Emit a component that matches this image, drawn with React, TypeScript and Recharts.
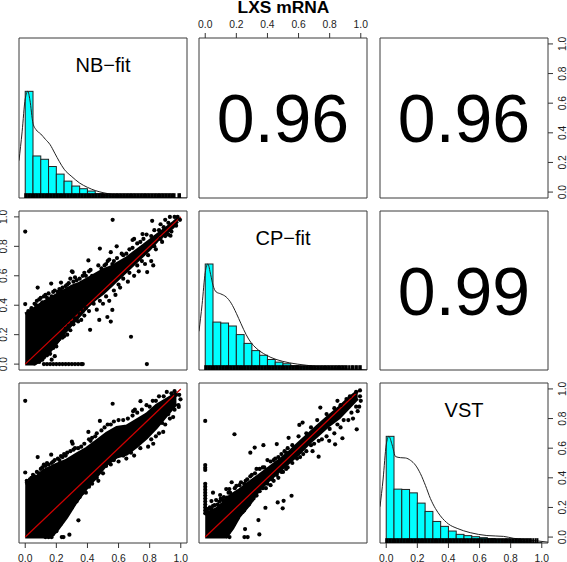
import React from "react";
import {
  ComposedChart,
  XAxis,
  YAxis,
  Bar,
  Line,
  Area,
  Scatter,
  ReferenceArea,
  ReferenceDot,
} from "recharts";

const FONT = '"Liberation Sans", Arial, Helvetica, sans-serif';
const PAD = 36;
const AXIS = 30;
const INK = "#1c1c1c";
const TICKS = [0, 0.2, 0.4, 0.6, 0.8, 1];
const DOMAIN: [number, number] = [-0.04, 1.04];
const HIST_Y: [number, number] = [0, 1.5];

const binCenters = [0.025, 0.075, 0.125, 0.175, 0.225, 0.275, 0.325, 0.375, 0.425, 0.475, 0.525, 0.575, 0.625, 0.675, 0.725, 0.775, 0.825, 0.875, 0.925, 0.975];
const nbHist = [1, 0.394, 0.363, 0.295, 0.224, 0.158, 0.112, 0.087, 0.065, 0.04, 0.025, 0.015, 0.01, 0.007, 0.005, 0.004, 0.003, 0.002, 0.002, 0.001];
const cpHist = [1, 0.452, 0.443, 0.415, 0.334, 0.251, 0.183, 0.139, 0.099, 0.074, 0.059, 0.04, 0.03, 0.02, 0.015, 0.012, 0.01, 0.008, 0.005, 0.003];
const vstHist = [1, 0.505, 0.502, 0.47, 0.374, 0.296, 0.202, 0.156, 0.112, 0.081, 0.069, 0.059, 0.05, 0.04, 0.03, 0.025, 0.02, 0.015, 0.01, 0.004];

const nbDensityX = [-0.04, -0.02, 0, 0.017, 0.03, 0.05, 0.07, 0.1, 0.13, 0.16, 0.19, 0.22, 0.25, 0.3, 0.35, 0.4, 0.45, 0.5, 0.6, 0.7, 0.8, 0.9, 1, 1.04];
const nbDensityY = [0.35, 0.62, 0.93, 1, 0.92, 0.7, 0.64, 0.6, 0.55, 0.5, 0.42, 0.34, 0.27, 0.2, 0.14, 0.1, 0.07, 0.05, 0.025, 0.012, 0.006, 0.003, 0.001, 0];
const cpDensityX = [-0.04, -0.02, 0, 0.017, 0.035, 0.05, 0.07, 0.1, 0.134, 0.167, 0.2, 0.23, 0.263, 0.295, 0.327, 0.39, 0.455, 0.54, 0.65, 0.8, 1, 1.04];
const cpDensityY = [0.365, 0.62, 0.92, 1, 0.9, 0.8, 0.737, 0.718, 0.69, 0.63, 0.535, 0.437, 0.334, 0.257, 0.207, 0.142, 0.1, 0.068, 0.045, 0.02, 0.005, 0.002];
const vstDensityX = [-0.04, -0.02, 0, 0.017, 0.038, 0.06, 0.092, 0.124, 0.156, 0.188, 0.22, 0.252, 0.284, 0.316, 0.348, 0.4, 0.456, 0.54, 0.647, 0.754, 0.818, 0.968, 1.04];
const vstDensityY = [0.34, 0.6, 0.92, 1, 0.92, 0.81, 0.8, 0.797, 0.775, 0.73, 0.65, 0.54, 0.417, 0.324, 0.255, 0.178, 0.137, 0.097, 0.07, 0.062, 0.044, 0.02, 0.008];

const rugDense = [0, 0.01, 0.02, 0.03, 0.04, 0.05, 0.06, 0.07, 0.08, 0.09, 0.1, 0.11, 0.12, 0.13, 0.14, 0.15, 0.16, 0.17, 0.18, 0.19, 0.2, 0.21, 0.22, 0.23, 0.24, 0.25, 0.26, 0.27, 0.28, 0.29, 0.3, 0.31, 0.32, 0.33, 0.34, 0.35, 0.36, 0.37, 0.38, 0.39, 0.4, 0.41, 0.42, 0.43, 0.44, 0.45, 0.46, 0.47, 0.48, 0.49, 0.5, 0.51, 0.52, 0.53, 0.54, 0.55, 0.56, 0.57, 0.58, 0.59, 0.6, 0.61, 0.62, 0.63, 0.64, 0.65, 0.66, 0.67, 0.68, 0.69, 0.7, 0.71, 0.72, 0.73, 0.74, 0.75, 0.76, 0.77, 0.78, 0.79, 0.8, 0.81, 0.82, 0.83, 0.84, 0.85, 0.86, 0.87, 0.88, 0.89, 0.9];
const nbRugTail = [0.91, 0.92, 0.93, 0.94, 0.95, 0.96, 0.985, 0.995];
const cpRugTail = [0.91, 0.925, 0.94, 0.95, 0.965, 0.975, 0.99, 1.0];
const vstRugTail = [0.91, 0.92, 0.93, 0.945, 0.96, 0.972];

// Dense clouds, read as lower and upper edges of the black mass: [x, low, high]
const cloudNbCp: [number, number, number][] = [[0, 0, 0.34], [0.03, 0, 0.36], [0.06, 0, 0.38], [0.1, 0.025, 0.41], [0.15, 0.075, 0.44], [0.2, 0.14, 0.47], [0.25, 0.21, 0.5], [0.3, 0.27, 0.53], [0.35, 0.33, 0.55], [0.4, 0.39, 0.58], [0.45, 0.44, 0.61], [0.5, 0.48, 0.64], [0.55, 0.53, 0.66], [0.6, 0.58, 0.69], [0.65, 0.63, 0.72], [0.7, 0.68, 0.76], [0.75, 0.73, 0.8], [0.8, 0.78, 0.84], [0.85, 0.84, 0.88], [0.9, 0.885, 0.92], [0.95, 0.93, 0.96], [0.98, 0.97, 0.99]];
const cloudNbVst: [number, number, number][] = [[0, 0, 0.36], [0.03, 0, 0.375], [0.075, 0, 0.41], [0.118, 0, 0.45], [0.16, 0, 0.47], [0.2, 0.04, 0.49], [0.267, 0.135, 0.52], [0.33, 0.24, 0.56], [0.395, 0.33, 0.6], [0.46, 0.41, 0.65], [0.523, 0.49, 0.7], [0.588, 0.54, 0.74], [0.652, 0.56, 0.75], [0.716, 0.61, 0.79], [0.78, 0.67, 0.83], [0.844, 0.74, 0.89], [0.908, 0.82, 0.93], [0.972, 0.9, 0.97]];
const cloudCpVst: [number, number, number][] = [[0, 0, 0.15], [0.028, 0, 0.17], [0.07, 0, 0.19], [0.113, 0, 0.23], [0.135, 0, 0.26], [0.177, 0.06, 0.29], [0.22, 0.14, 0.32], [0.284, 0.22, 0.37], [0.348, 0.32, 0.42], [0.412, 0.385, 0.47], [0.476, 0.445, 0.52], [0.54, 0.505, 0.575], [0.605, 0.565, 0.64], [0.669, 0.635, 0.7], [0.733, 0.695, 0.76], [0.797, 0.755, 0.82], [0.861, 0.805, 0.875], [0.925, 0.875, 0.94], [0.98, 0.935, 0.985]];

// Individually visible points around the clouds: [x, y]
const pointsNbCp: [number, number][] = [[0, 0.9], [0.562, 0.98], [0.68, 0.186], [0.782, 0], [0.08, 0.52], [0.23, 0.554], [0.167, 0.547], [0.3, 0.63], [0.305, 0.625], [0.406, 0.704], [0.48, 0.785], [0.588, 0.8], [0.55, 0.76], [0.53, 0.7], [0.54, 0.71], [0.754, 0.883], [0.69, 0.843], [0.7, 0.85], [0.816, 0.973], [0.934, 0.872], [0.417, 0.233], [0.56, 0.368], [0.55, 0.289], [0.528, 0.32], [0.476, 0.3], [0.823, 0.67], [0.784, 0.625], [0, 0.408], [0.12, 0], [0.14, 0], [0.16, 0], [0.18, 0], [0.2, 0], [0.22, 0], [0.24, 0], [0.26, 0], [0.28, 0], [0.3, 0], [0.32, 0], [0.34, 0], [0.36, 0], [0.37, 0], [0.17, 0.03], [0.19, 0.054], [0.06, 0.41], [0.075, 0.43], [0.1, 0.45], [0.13, 0.47], [0.19, 0.5], [0.22, 0.51], [0.26, 0.53], [0.33, 0.57], [0.37, 0.6], [0.42, 0.64], [0.47, 0.67], [0.51, 0.67], [0.57, 0.7], [0.62, 0.75], [0.67, 0.78], [0.72, 0.82], [0.78, 0.88], [0.83, 0.91], [0.87, 0.95], [0.9, 0.98], [0.93, 1.0], [0.96, 1.0], [0.98, 1.0], [0.995, 0.98], [0.14, 0.06], [0.2, 0.12], [0.22, 0.17], [0.27, 0.2], [0.31, 0.27], [0.36, 0.3], [0.41, 0.36], [0.46, 0.37], [0.5, 0.41], [0.54, 0.43], [0.58, 0.47], [0.61, 0.52], [0.66, 0.56], [0.7, 0.6], [0.73, 0.63], [0.77, 0.68], [0.81, 0.7], [0.84, 0.78], [0.88, 0.83], [0.92, 0.88], [0.97, 0.94], [0.43, 0.6], [0.49, 0.65], [0.52, 0.68], [0.56, 0.68], [0.59, 0.72], [0.63, 0.74], [0.65, 0.75], [0.69, 0.79], [0.74, 0.83], [0.76, 0.85], [0.81, 0.87], [0.86, 0.91], [0.89, 0.93], [0.92, 0.96], [0.44, 0.41], [0.48, 0.43], [0.52, 0.46], [0.57, 0.5], [0.6, 0.54], [0.63, 0.58], [0.67, 0.62], [0.72, 0.67], [0.75, 0.7], [0.79, 0.74], [0.83, 0.8], [0.87, 0.85], [0.9, 0.87], [0.94, 0.9], [0.38, 0.33], [0.34, 0.29], [0.29, 0.23], [0.24, 0.18], [0.02, 0.36], [0.04, 0.38], [0.05, 0.37], [0.07, 0.4], [0.09, 0.44], [0.11, 0.42], [0.12, 0.46], [0.14, 0.45], [0.15, 0.48], [0.17, 0.46], [0.18, 0.49], [0.21, 0.49], [0.23, 0.5], [0.24, 0.52], [0.27, 0.54], [0.28, 0.55], [0.29, 0.58], [0.31, 0.56], [0.32, 0.59], [0.35, 0.58], [0.38, 0.62], [0.39, 0.6], [0.41, 0.63], [0.06, 0.005], [0.09, 0.015], [0.11, 0.03], [0.12, 0.045], [0.15, 0.08], [0.16, 0.07], [0.18, 0.11], [0.21, 0.16], [0.23, 0.2], [0.25, 0.19], [0.26, 0.24], [0.28, 0.26], [0.3, 0.28], [0.32, 0.31], [0.33, 0.3], [0.35, 0.34], [0.37, 0.36], [0.39, 0.38]];
const pointsNbVst: [number, number][] = [[0, 0.92], [0.562, 0.9], [0.08, 0.54], [0.167, 0.556], [0.23, 0.547], [0.3, 0.644], [0.305, 0.63], [0.406, 0.71], [0.48, 0.784], [0.741, 0.917], [0.694, 0.85], [0.705, 0.86], [0.342, 0.113], [0.284, 0.016], [0.246, 0], [0.235, 0], [0, 0.436], [0.998, 0.93], [0.987, 0.878], [0.985, 0.89], [0.951, 0.81], [0.887, 0.71], [0.823, 0.63], [0.05, 0.42], [0.075, 0.44], [0.12, 0.49], [0.14, 0.5], [0.19, 0.52], [0.21, 0.53], [0.27, 0.57], [0.32, 0.6], [0.36, 0.61], [0.43, 0.67], [0.46, 0.7], [0.51, 0.74], [0.53, 0.76], [0.57, 0.78], [0.6, 0.79], [0.66, 0.8], [0.72, 0.84], [0.78, 0.89], [0.82, 0.92], [0.86, 0.95], [0.91, 0.98], [0.96, 0.985], [0.97, 0.96], [0.19, 0.05], [0.22, 0.08], [0.25, 0.13], [0.28, 0.18], [0.31, 0.22], [0.35, 0.27], [0.39, 0.3], [0.43, 0.36], [0.47, 0.38], [0.5, 0.43], [0.55, 0.49], [0.6, 0.51], [0.65, 0.53], [0.7, 0.55], [0.74, 0.6], [0.79, 0.61], [0.84, 0.68], [0.86, 0.7], [0.9, 0.76], [0.93, 0.8], [0.96, 0.86], [0.13, 0], [0.15, 0], [0.17, 0], [0.63, 0.55], [0.68, 0.57], [0.76, 0.66], [0.81, 0.66], [0.88, 0.77], [0.92, 0.83], [0.94, 0.88], [0.99, 0.96], [0.55, 0.76], [0.63, 0.79], [0.69, 0.82], [0.75, 0.86], [0.8, 0.88], [0.84, 0.92], [0.89, 0.95], [0.94, 0.97], [0.01, 0.38], [0.03, 0.39], [0.04, 0.4], [0.06, 0.41], [0.09, 0.43], [0.1, 0.46], [0.11, 0.47], [0.13, 0.48], [0.15, 0.49], [0.17, 0.5], [0.18, 0.51], [0.22, 0.52], [0.24, 0.54], [0.25, 0.56], [0.26, 0.55], [0.29, 0.58], [0.31, 0.59], [0.34, 0.6], [0.38, 0.63], [0.41, 0.66], [0.42, 0.65], [0.45, 0.68], [0.49, 0.72], [0.18, 0.02], [0.2, 0.04], [0.21, 0.07], [0.23, 0.09], [0.24, 0.11], [0.26, 0.14], [0.27, 0.16], [0.29, 0.2], [0.3, 0.2], [0.33, 0.24], [0.34, 0.26], [0.37, 0.3], [0.38, 0.32], [0.41, 0.34], [0.44, 0.39], [0.46, 0.4], [0.49, 0.46], [0.52, 0.48], [0.57, 0.52]];
const pointsCpVst: [number, number][] = [[0, 0.784], [0, 0.486], [0, 0.468], [0, 0.453], [0, 0.36], [0, 0.34], [0, 0.32], [0, 0.3], [0, 0.28], [0, 0.26], [0, 0.24], [0, 0.22], [0, 0.2], [0, 0.18], [0, 0.16], [0.188, 0.694], [0.29, 0.57], [0.318, 0.604], [0.374, 0.62], [0.46, 0.628], [0.536, 0.67], [0.53, 0.6], [0.605, 0.757], [0.626, 0.773], [0.74, 0.874], [0.85, 0.92], [0.908, 0.932], [0.974, 0.727], [0.882, 0.667], [0.835, 0.626], [0.797, 0.65], [0.729, 0.543], [0.69, 0.58], [0.555, 0.279], [0.504, 0.245], [0.466, 0.234], [0.498, 0.194], [0.387, 0.198], [0.342, 0.115], [0.348, 0.018], [0.273, 0], [0.252, 0], [0.256, 0.054], [0.156, 0], [0.17, 0.37], [0.135, 0.324], [0.155, 0.324], [0.05, 0.3], [0.096, 0.284], [0.07, 0.25], [0.04, 0.243], [0.14, 0.266], [0.03, 0.2], [0.06, 0.215], [0.1, 0.26], [0.2, 0.345], [0.23, 0.37], [0.27, 0.39], [0.3, 0.42], [0.33, 0.46], [0.37, 0.47], [0.4, 0.52], [0.45, 0.53], [0.49, 0.56], [0.52, 0.57], [0.56, 0.62], [0.6, 0.68], [0.65, 0.7], [0.68, 0.74], [0.72, 0.79], [0.78, 0.83], [0.83, 0.87], [0.87, 0.89], [0.93, 0.95], [0.97, 0.98], [0.995, 0.99], [0.995, 0.95], [1.0, 0.92], [0.99, 0.88], [0.98, 0.85], [0.95, 0.8], [0.92, 0.79], [0.87, 0.74], [0.83, 0.7], [0.78, 0.68], [0.75, 0.66], [0.7, 0.63], [0.65, 0.58], [0.61, 0.54], [0.56, 0.5], [0.5, 0.44], [0.44, 0.38], [0.39, 0.33], [0.33, 0.28], [0.3, 0.25], [0.25, 0.18], [0.21, 0.13], [0.18, 0.08], [0.13, 0.03], [0.42, 0.35], [0.47, 0.4], [0.53, 0.47], [0.59, 0.53], [0.63, 0.56], [0.68, 0.62], [0.73, 0.65], [0.8, 0.73], [0.85, 0.76], [0.89, 0.79], [0.94, 0.84], [0.97, 0.88], [0.01, 0.17], [0.02, 0.19], [0.04, 0.19], [0.05, 0.21], [0.08, 0.22], [0.09, 0.24], [0.11, 0.25], [0.12, 0.27], [0.15, 0.3], [0.16, 0.3], [0.19, 0.33], [0.22, 0.35], [0.25, 0.36], [0.26, 0.38], [0.29, 0.41], [0.32, 0.43], [0.35, 0.46], [0.38, 0.47], [0.42, 0.51], [0.44, 0.52], [0.47, 0.54], [0.51, 0.58], [0.14, 0.005], [0.15, 0.03], [0.16, 0.05], [0.19, 0.1], [0.2, 0.12], [0.22, 0.15], [0.24, 0.17], [0.26, 0.2], [0.28, 0.22], [0.31, 0.26], [0.35, 0.31], [0.37, 0.33], [0.4, 0.36], [0.43, 0.39], [0.46, 0.42], [0.49, 0.44], [0.52, 0.46]];

const lineEnds = [{ x: 0, y: 0 }, { x: 1, y: 1 }];
const correlations = ["0.96", "0.96", "0.99"];
const titles = ["NB\u2212fit", "CP\u2212fit", "VST"];
const mainTitle = "LXS mRNA";

const colLeft = [19.2, 199.4, 380];
const rowTop = [38, 211, 383];
const panelW = 168;
const rowH = [160, 159, 160];
const binW = (panelW / 1.08) * 0.05;

const pairs = (xs: number[], ys: number[]) => xs.map((x, i) => ({ x, y: ys[i] }));
const toPoints = (p: [number, number][]) => p.map(([x, y]) => ({ x, y }));
const toBand = (p: [number, number, number][]) => p.map(([x, lo, hi]) => ({ x, band: [lo, hi] }));
const toBars = (hist: number[]) => binCenters.map((x, i) => ({ x, h: hist[i] }));

const dot = (props: any) => <circle cx={props.cx} cy={props.cy} r={2.1} fill="#000" />;
const rugMark = (props: any) => <rect x={props.cx - 1} y={props.cy - 4.8} width={2} height={4.8} fill="#000" />;
const histBar = (props: any) => (
  <rect x={props.x + props.width / 2 - binW / 2} y={props.y} width={binW} height={props.height} fill="#00ffff" stroke="#222" strokeWidth={1} />
);

const horizontalTick = (props: any) => (
  <text x={props.x} y={props.y} textAnchor="middle" dominantBaseline="central" fontSize={10.3} fontFamily={FONT} fill={INK}>
    {Number(props.payload.value).toFixed(1)}
  </text>
);
const verticalTick = (props: any) => (
  <text
    x={props.x}
    y={props.y}
    transform={`rotate(-90 ${props.x} ${props.y})`}
    textAnchor="middle"
    dominantBaseline="central"
    fontSize={10.3}
    fontFamily={FONT}
    fill={INK}
  >
    {Number(props.payload.value).toFixed(1)}
  </text>
);

type PanelProps = {
  col: number;
  row: number;
  top?: boolean;
  bottom?: boolean;
  left?: boolean;
  right?: boolean;
  bars?: { x: number; h: number }[];
  children?: React.ReactNode;
};

function Panel({ col, row, top, bottom, left, right, bars, children }: PanelProps) {
  const h = rowH[row];
  const margin = {
    top: PAD - (top ? AXIS : 0),
    bottom: PAD - (bottom ? AXIS : 0),
    left: PAD - (left ? AXIS : 0),
    right: PAD - (right ? AXIS : 0),
  };
  return (
    <div style={{ position: "absolute", left: colLeft[col] - PAD, top: rowTop[row] - PAD }}>
      <ComposedChart width={panelW + 2 * PAD} height={h + 2 * PAD} margin={margin} data={bars}>
        <XAxis
          xAxisId={0}
          dataKey="x"
          type="number"
          domain={DOMAIN}
          ticks={TICKS}
          interval={0}
          hide={!top && !bottom}
          orientation={top ? "top" : "bottom"}
          height={AXIS}
          axisLine={false}
          tickLine={{ stroke: "#333" }}
          tickSize={5}
          tickMargin={top ? 8.5 : 10}
          tick={horizontalTick}
          allowDataOverflow
        />
        <YAxis
          yAxisId={0}
          type="number"
          domain={DOMAIN}
          ticks={TICKS}
          interval={0}
          hide={!left && !right}
          orientation={left ? "left" : "right"}
          width={AXIS}
          axisLine={false}
          tickLine={{ stroke: "#333" }}
          tickSize={5}
          tickMargin={10}
          tick={verticalTick}
          allowDataOverflow
        />
        <YAxis yAxisId="h" type="number" domain={HIST_Y} hide allowDataOverflow />
        {children}
        <ReferenceArea x1={DOMAIN[0]} x2={DOMAIN[1]} y1={DOMAIN[0]} y2={DOMAIN[1]} fill="none" stroke="#3a3a3a" strokeWidth={1} ifOverflow="visible" />
      </ComposedChart>
    </div>
  );
}

function histParts(title: string, dx: number[], dy: number[], rugTail: number[]) {
  const rug = [...rugDense, ...rugTail].map((x) => ({ x, r: 0 }));
  return [
    <Bar key="b" yAxisId="h" dataKey="h" shape={histBar} isAnimationActive={false} />,
    <Line key="l" yAxisId="h" data={pairs(dx, dy)} dataKey="y" type="monotone" stroke="#222" strokeWidth={1} dot={false} isAnimationActive={false} />,
    <Scatter key="s" yAxisId="h" data={rug} dataKey="r" shape={rugMark} isAnimationActive={false} />,
    <ReferenceDot
      key="t"
      yAxisId="h"
      x={0.5}
      y={1.25}
      r={0}
      fill="none"
      stroke="none"
      label={{ value: title, position: "center", fontSize: 20, fontFamily: FONT, fill: "#000" }}
    />,
  ];
}

function scatterParts(band: [number, number, number][], pts: [number, number][]) {
  return [
    <Area key="a" data={toBand(band)} dataKey="band" type="linear" fill="#000" fillOpacity={1} stroke="#000" strokeWidth={3} dot={false} activeDot={false} isAnimationActive={false} />,
    <Scatter key="s" data={toPoints(pts)} dataKey="y" shape={dot} isAnimationActive={false} />,
    <Line key="l" data={lineEnds} dataKey="y" type="linear" stroke="#cc0000" strokeWidth={1.3} dot={false} isAnimationActive={false} />,
  ];
}

function corrPart(value: string) {
  return (
    <ReferenceDot
      x={0.5}
      y={0.5}
      r={0}
      fill="none"
      stroke="none"
      label={{ value, position: "center", fontSize: 68, fontFamily: FONT, fill: "#000" }}
    />
  );
}

export default function App() {
  return (
    <div style={{ position: "absolute", left: 0, top: 0, width: 567, height: 562, overflow: "hidden", background: "#fff" }}>
      <div
        style={{
          position: "absolute",
          left: 183.5,
          width: 200,
          top: 0,
          textAlign: "center",
          fontFamily: FONT,
          fontWeight: "bold",
          fontSize: 17.4,
          lineHeight: "15px",
          color: "#000",
        }}
      >
        {mainTitle}
      </div>

      <Panel col={0} row={0} bars={toBars(nbHist)}>{histParts(titles[0], nbDensityX, nbDensityY, nbRugTail)}</Panel>
      <Panel col={1} row={0} top>{corrPart(correlations[0])}</Panel>
      <Panel col={2} row={0} right>{corrPart(correlations[1])}</Panel>

      <Panel col={0} row={1} left>{scatterParts(cloudNbCp, pointsNbCp)}</Panel>
      <Panel col={1} row={1} bars={toBars(cpHist)}>{histParts(titles[1], cpDensityX, cpDensityY, cpRugTail)}</Panel>
      <Panel col={2} row={1}>{corrPart(correlations[2])}</Panel>

      <Panel col={0} row={2} bottom>{scatterParts(cloudNbVst, pointsNbVst)}</Panel>
      <Panel col={1} row={2}>{scatterParts(cloudCpVst, pointsCpVst)}</Panel>
      <Panel col={2} row={2} bottom right bars={toBars(vstHist)}>{histParts(titles[2], vstDensityX, vstDensityY, vstRugTail)}</Panel>
    </div>
  );
}
